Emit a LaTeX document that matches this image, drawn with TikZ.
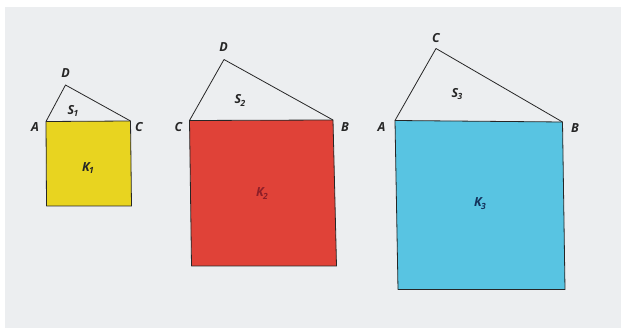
\documentclass[tikz,border=0pt]{standalone}
\usepackage{fontspec}
\setmainfont{Open Sans}
\newcommand{\lsub}[2]{#1\kern-0.5pt\raisebox{-2.4pt}{\fontsize{8.5}{9}\selectfont #2}}
\begin{document}
\begin{tikzpicture}[x=1pt,y=-1pt,
  lbl/.style={font=\fontsize{12.5}{13}\selectfont\itshape\bfseries, text=black!85, inner sep=0pt},
  sq/.style={draw=black!85, line width=0.8pt, line join=round},
  tri/.style={draw=black!85, line width=0.8pt, line join=round}]
\definecolor{bgc}{RGB}{236,238,240}
\definecolor{yel}{RGB}{232,212,32}
\definecolor{redc}{RGB}{224,66,56}
\definecolor{bluec}{RGB}{88,196,226}
\definecolor{kred}{RGB}{140,30,40}
\definecolor{kblue}{RGB}{20,50,90}
\useasboundingbox (0,0) rectangle (621,328);
\fill[white] (0,0) rectangle (621,328);
\fill[bgc] (5,7) rectangle (621,328);
% figure 1
\coordinate (A1) at (46,121.5);
\coordinate (C1) at (130.5,121);
\coordinate (C1b) at (131.5,206);
\coordinate (A1b) at (46.5,206);
\coordinate (D1) at (65.5,85);
\fill[yel] (A1) -- (C1) -- (C1b) -- (A1b) -- cycle;
\draw[sq] (A1) -- (C1) -- (C1b) -- (A1b) -- cycle;
\draw[tri] (A1) -- (D1) -- (C1);
\node[lbl] (lD1) at (65.5,73) {D};
\node[lbl] (lA1) at (35,127) {A};
\node[lbl] (lC1) at (139,127) {C};
\node[lbl] (lS1) at (73,111) {\lsub{S}{1}};
\node[lbl] (lK1) at (88,168) {\lsub{K}{1}};
% figure 2
\coordinate (C2) at (189.5,120.5);
\coordinate (B2) at (333,120);
\coordinate (B2b) at (336.5,266);
\coordinate (C2b) at (191.5,266);
\coordinate (D2) at (224,59.5);
\fill[redc] (C2) -- (B2) -- (B2b) -- (C2b) -- cycle;
\draw[sq] (C2) -- (B2) -- (B2b) -- (C2b) -- cycle;
\draw[tri] (C2) -- (D2) -- (B2);
\node[lbl] (lD2) at (223.5,47.5) {D};
\node[lbl] (lC2) at (178.5,127.5) {C};
\node[lbl] (lB2) at (345,127.5) {B};
\node[lbl] (lS2) at (240,100.5) {\lsub{S}{2}};
\node[lbl, text=kred] (lK2) at (262,193.5) {\lsub{K}{2}};
% figure 3
\coordinate (A3) at (395,120.5);
\coordinate (B3) at (562.5,122);
\coordinate (B3b) at (565,289.5);
\coordinate (A3b) at (398,289.5);
\coordinate (C3) at (436,48.5);
\fill[bluec] (A3) -- (B3) -- (B3b) -- (A3b) -- cycle;
\draw[sq] (A3) -- (B3) -- (B3b) -- (A3b) -- cycle;
\draw[tri] (A3) -- (C3) -- (B3);
\node[lbl] (lC3) at (436,38) {C};
\node[lbl] (lA3) at (381.5,127.5) {A};
\node[lbl] (lB3) at (575,128.5) {B};
\node[lbl] (lS3) at (457,94) {\lsub{S}{3}};
\node[lbl, text=kblue] (lK3) at (480,203.5) {\lsub{K}{3}};
\end{tikzpicture}
\end{document}
